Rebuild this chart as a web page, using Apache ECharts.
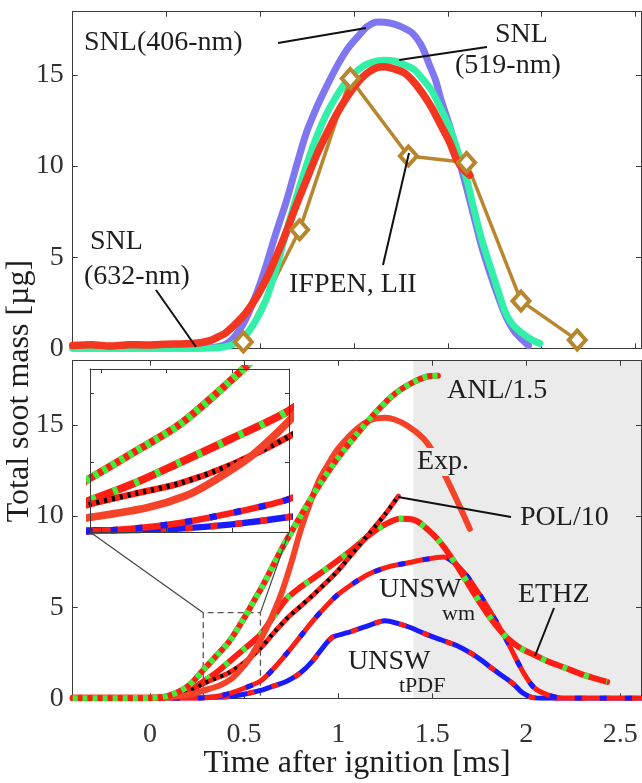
<!DOCTYPE html>
<html><head><meta charset="utf-8">
<script src="https://cdn.jsdelivr.net/npm/echarts@6/dist/echarts.min.js"></script>
<style>html,body{margin:0;padding:0;background:#fff}#c{width:642px;height:783px}</style>
</head><body><div id="c"></div>
<script>
// ---------------- DATA (time [ms], total soot mass [µg]) ----------------
// Top panel: experiments
const snl406 = [[-0.5,0],[0,0],[0.2,0.02],[0.3,0.15],[0.36,0.6],[0.42,1.55],[0.48,3.0],[0.53,4.5],[0.58,6.2],[0.64,8.1],[0.69,9.9],[0.745,11.8],[0.8,13.2],[0.855,14.4],[0.91,15.5],[0.963,16.4],[1.02,17.1],[1.07,17.65],[1.127,17.9],[1.19,17.85],[1.25,17.65],[1.31,17.3],[1.36,16.6],[1.40,15.6],[1.435,14.7],[1.465,13.6],[1.51,12.2],[1.55,10.7],[1.6,8.8],[1.64,7.2],[1.68,5.6],[1.726,4.1],[1.77,2.8],[1.81,1.74],[1.85,1.0],[1.88,0.64],[1.93,0.15]];
const snl519 = [[-0.5,0],[0,0],[0.25,0.02],[0.35,0.2],[0.42,0.7],[0.48,1.6],[0.53,2.65],[0.58,4.2],[0.636,6.3],[0.69,8.2],[0.745,10.0],[0.8,11.6],[0.855,12.9],[0.91,13.9],[0.963,14.7],[1.02,15.25],[1.07,15.6],[1.16,15.8],[1.22,15.75],[1.27,15.55],[1.32,15.3],[1.356,14.9],[1.41,14.2],[1.465,13.1],[1.51,12.1],[1.55,10.9],[1.6,9.3],[1.64,7.6],[1.68,6.0],[1.726,4.5],[1.77,3.1],[1.81,1.9],[1.85,1.25],[1.9,0.8],[1.95,0.45],[1.99,0.27]];
const snl632 = [[-0.5,0.15],[-0.4,0.2],[-0.3,0.12],[-0.2,0.2],[-0.1,0.18],[0,0.22],[0.1,0.25],[0.18,0.3],[0.24,0.45],[0.28,0.65],[0.31,0.8],[0.36,1.25],[0.42,1.9],[0.48,2.8],[0.53,3.75],[0.58,4.9],[0.636,6.3],[0.69,7.8],[0.745,9.2],[0.8,10.6],[0.855,11.8],[0.91,12.9],[0.963,13.8],[1.02,14.6],[1.07,15.1],[1.12,15.4],[1.16,15.45],[1.21,15.35],[1.27,15.1],[1.32,14.6],[1.378,13.8],[1.42,13.1],[1.465,12.2],[1.51,11.3],[1.55,10.3],[1.585,9.8],[1.617,9.5]];
const ifpenLII = [[0.41,0.35],[0.71,6.5],[0.98,14.8],[1.29,10.55],[1.60,10.2],[1.89,2.6],[2.19,0.45]];

// Bottom panel: models and experiment
const anl = [[-0.411,0],[0,0.02],[0.1,0.15],[0.2,0.65],[0.283,1.55],[0.35,2.3],[0.42,3.1],[0.5,4.4],[0.55,5.3],[0.6,6.2],[0.65,7.2],[0.7,8.2],[0.8,10.0],[0.9,11.7],[1.0,13.2],[1.1,14.5],[1.2,15.7],[1.3,16.7],[1.4,17.35],[1.47,17.65],[1.53,17.7]];
const exp = [[-0.411,0.05],[0,0.05],[0.1,0.08],[0.2,0.18],[0.283,0.42],[0.37,0.7],[0.43,1.05],[0.47,1.45],[0.53,2.2],[0.587,3.2],[0.64,4.3],[0.7,5.8],[0.75,7.4],[0.8,9.2],[0.85,10.7],[0.9,12.0],[0.95,12.9],[1.0,13.7],[1.1,14.8],[1.18,15.3],[1.25,15.4],[1.3,15.3],[1.37,14.95],[1.45,14.3],[1.5,13.6],[1.56,12.4],[1.63,10.9],[1.7,9.3]];
const pol = [[-0.411,0],[0,0],[0.1,0.05],[0.2,0.35],[0.283,0.8],[0.35,1.1],[0.42,1.4],[0.5,1.95],[0.587,2.75],[0.65,3.5],[0.73,4.4],[0.8,5.05],[0.87,5.7],[0.99,6.9],[1.08,8.0],[1.17,9.1],[1.25,10.1],[1.32,11.1]];
const ethz = [[-0.411,0],[0,0],[0.1,0.05],[0.2,0.4],[0.283,0.92],[0.35,1.4],[0.42,2.0],[0.5,2.7],[0.587,3.5],[0.65,4.4],[0.73,5.5],[0.8,6.1],[0.87,6.6],[0.99,7.5],[1.08,8.2],[1.17,9.0],[1.26,9.6],[1.33,9.85],[1.4,9.8],[1.45,9.5],[1.54,8.6],[1.63,7.3],[1.72,5.8],[1.81,4.4],[1.9,3.3],[1.97,2.75],[2.04,2.4],[2.12,2.0],[2.2,1.7],[2.3,1.3],[2.43,0.9]];
const unswWm = [[-0.411,0],[0,0],[0.2,0],[0.283,0.02],[0.35,0.1],[0.42,0.26],[0.5,0.55],[0.587,0.95],[0.65,1.55],[0.73,2.5],[0.8,3.4],[0.87,4.3],[0.94,5.1],[1.0,5.7],[1.08,6.3],[1.17,6.85],[1.28,7.25],[1.38,7.45],[1.45,7.6],[1.56,7.75],[1.61,7.5],[1.67,6.9],[1.72,6.2],[1.81,4.75],[1.9,3.1],[1.98,1.5],[2.04,0.6],[2.11,0.2],[2.18,0.02],[2.3,0],[2.61,0]];
const unswTpdf = [[-0.411,0],[0,0],[0.283,0.05],[0.35,0.06],[0.42,0.1],[0.5,0.22],[0.587,0.43],[0.65,0.65],[0.73,0.95],[0.8,1.4],[0.86,2.0],[0.92,2.8],[0.97,3.35],[1.05,3.6],[1.15,3.95],[1.25,4.25],[1.32,4.1],[1.38,3.9],[1.46,3.55],[1.55,3.2],[1.63,2.9],[1.71,2.45],[1.76,2.1],[1.81,1.7],[1.87,1.25],[1.93,0.8],[1.98,0.3],[2.03,0.05],[2.1,0],[2.61,0]];

// Axes / ticks
const xTicks = [0, 0.5, 1, 1.5, 2, 2.5];
const yTicks = [0, 5, 10, 15];
const insetXTicks = [0.3, 0.4, 0.5];
const insetYTicks = [0, 2, 4];
const topXRange = [-0.5, 2.53];
const botXRange = [-0.411, 2.61];
const topYRange = [0, 18.47];
const botYRange = [0, 18.53];
const zoomX = [0.283, 0.587];
const zoomY = [0, 4.7];
const shadeStart = 1.4;

// ---------------- CHART ----------------
const FONT = '"Liberation Serif", "Times New Roman", serif';
const AX = '#3a3a3a';
const chart = echarts.init(document.getElementById('c'), null, {renderer: 'canvas'});

function xAx(gridIndex, position, range, ticks, labels, tickLen) {
  return {type: 'value', gridIndex, position, min: range[0], max: range[1],
    axisLine: {show: true, onZero: false, lineStyle: {color: AX, width: 1}},
    axisTick: {show: true, inside: true, length: tickLen, customValues: ticks, lineStyle: {color: AX}},
    axisLabel: {show: labels, customValues: ticks, fontFamily: FONT, fontSize: 28, color: '#333', margin: 22},
    splitLine: {show: false}, z: 1};
}
function yAx(gridIndex, position, range, ticks, labels, tickLen) {
  return {type: 'value', gridIndex, position, min: range[0], max: range[1],
    axisLine: {show: true, onZero: false, lineStyle: {color: AX, width: 1}},
    axisTick: {show: true, inside: true, length: tickLen, customValues: ticks, lineStyle: {color: AX}},
    axisLabel: {show: labels, customValues: ticks, fontFamily: FONT, fontSize: 28, color: '#333', margin: 9},
    splitLine: {show: false}, z: 1};
}

function line(data, xi, yi, color, width, type, z) {
  return {type: 'line', xAxisIndex: xi, yAxisIndex: yi, data,
    showSymbol: false, symbol: 'none', smooth: 0.3, silent: true, animation: false,
    lineStyle: {color, width, type, cap: type === 'solid' ? 'round' : 'butt', join: 'round'}, z};
}

const RED = '#ff1e14', GREEN = '#3ef03a', BLUE = '#1a1aff', BLACK = '#000';

function modelSeries(xi, yi, w, zBase) {
  return [
    line(unswTpdf, xi, yi, BLUE, 5 * w, 'solid', zBase),
    line(unswTpdf, xi, yi, RED, 5 * w, [7, 18], zBase),
    line(unswWm, xi, yi, RED, 5 * w, 'solid', zBase),
    line(unswWm, xi, yi, BLUE, 5 * w, [7, 18], zBase),
    line(ethz, xi, yi, RED, 6 * w, 'solid', zBase),
    line(ethz, xi, yi, GREEN, 6 * w, [5, 18], zBase),
    line(pol, xi, yi, RED, 5 * w, 'solid', zBase),
    line(pol, xi, yi, BLACK, 4 * w, [3, 5], zBase),
    line(exp, xi, yi, '#f5432a', 6 * w, 'solid', zBase),
    line(anl, xi, yi, RED, 6 * w, 'solid', zBase),
    line(anl, xi, yi, GREEN, 6 * w, [5, 5], zBase)
  ];
}

const series = [
  // top panel
  {type: 'line', xAxisIndex: 0, yAxisIndex: 0, data: ifpenLII, smooth: false, silent: true, animation: false,
   symbol: 'diamond', symbolSize: [17, 19], showSymbol: true,
   lineStyle: {color: '#b8862c', width: 3.5}, itemStyle: {color: '#fff', borderColor: '#b8862c', borderWidth: 4}, z: 2},
  line(snl406, 0, 0, '#7f76f0', 7, 'solid', 2),
  line(snl519, 0, 0, '#33f0a8', 7, 'solid', 2),
  line(snl632, 0, 0, '#f2361f', 7.5, 'solid', 2),
  // bottom panel shaded region
  {type: 'line', xAxisIndex: 2, yAxisIndex: 2, data: [[shadeStart, 0]], symbol: 'none', silent: true, animation: false,
   lineStyle: {opacity: 0}, z: 0,
   markArea: {silent: true, itemStyle: {color: '#ebebeb'},
     data: [[{xAxis: shadeStart, yAxis: botYRange[0]}, {xAxis: botXRange[1], yAxis: botYRange[1]}]]}},
  // zoom box
  {type: 'line', xAxisIndex: 2, yAxisIndex: 2, symbol: 'none', silent: true, animation: false,
   data: [[zoomX[0], zoomY[0]], [zoomX[0], zoomY[1]], [zoomX[1], zoomY[1]], [zoomX[1], zoomY[0]]],
   lineStyle: {color: '#555', width: 1.3, type: [6, 4]}, z: 1},
  ...modelSeries(2, 2, 1, 2),
  ...modelSeries(4, 4, 1.3, 4)
];

const option = {
  animation: false,
  backgroundColor: '#fff',
  grid: [
    {left: 72.7, top: 11.7, width: 568.3, height: 336.6},
    {left: 72.7, top: 360.7, width: 568.3, height: 337.6},
    {left: 90, top: 369, width: 199, height: 163, show: true, backgroundColor: '#fff', borderWidth: 0, z: 3}
  ],
  xAxis: [
    xAx(0, 'bottom', topXRange, xTicks, false, 5),
    xAx(0, 'top', topXRange, xTicks, false, 5),
    xAx(1, 'bottom', botXRange, xTicks, true, 5),
    xAx(1, 'top', botXRange, xTicks, false, 5),
    Object.assign(xAx(2, 'bottom', zoomX, insetXTicks, false, 4), {z: 5}),
    Object.assign(xAx(2, 'top', zoomX, insetXTicks, false, 4), {z: 5})
  ],
  yAxis: [
    yAx(0, 'left', topYRange, yTicks, true, 5),
    yAx(0, 'right', topYRange, yTicks, false, 5),
    yAx(1, 'left', botYRange, yTicks, true, 5),
    yAx(1, 'right', botYRange, yTicks, false, 5),
    Object.assign(yAx(2, 'left', zoomY, insetYTicks, false, 4), {z: 5}),
    Object.assign(yAx(2, 'right', zoomY, insetYTicks, false, 4), {z: 5})
  ],
  series
};
chart.setOption(option);

// ---------------- annotations ----------------
function txt(text, x, y, size, extra) {
  return {type: 'text', x, y, z: 20, silent: true,
    style: Object.assign({text, fontFamily: FONT, fontSize: size, fill: '#1e1e1e', align: 'left', verticalAlign: 'middle'}, extra || {})};
}
function seg(x1, y1, x2, y2, w, color) {
  return {type: 'line', z: 20, silent: true, shape: {x1, y1, x2, y2}, style: {stroke: color || '#111', lineWidth: w || 2}};
}
const p = (gi, v) => chart.convertToPixel({gridIndex: gi}, v);
const insBL = [90, 532], insBR = [289, 532];
const boxTL = p(1, [zoomX[0], zoomY[1]]), boxTR = p(1, [zoomX[1], zoomY[1]]);

const graphics = [
  txt('Time after ignition [ms]', 357, 764, 32, {align: 'center'}),
  {type: 'text', x: 20, y: 391, rotation: Math.PI / 2, z: 20, silent: true,
   style: {text: 'Total soot mass [µg]', fontFamily: FONT, fontSize: 32, fill: '#1e1e1e', align: 'center', verticalAlign: 'middle'}},
  txt('SNL(406-nm)', 84, 43, 28),
  seg(278, 43, 366, 28),
  txt('SNL', 495, 35, 28),
  txt('(519-nm)', 455, 66, 28),
  seg(487, 47, 399, 60),
  txt('SNL', 90, 242, 28),
  txt('(632-nm)', 84, 277, 28),
  seg(156, 290, 196, 347),
  txt('IFPEN, LII', 289, 285, 28),
  seg(383, 265, 409, 153),
  txt('ANL/1.5', 447, 391, 28),
  txt('Exp.', 416, 462, 28, {backgroundColor: '#ebebeb', padding: [0, 1]}),
  txt('POL/10', 520, 518, 28),
  seg(511, 517, 398, 497),
  txt('ETHZ', 518, 595, 28),
  seg(554, 608, 535, 656),
  txt('UNSW', 379, 590, 28),
  txt('wm', 442, 614, 22),
  txt('UNSW', 348, 662, 28),
  txt('tPDF', 399, 686, 22),
  seg(insBL[0], insBL[1], boxTL[0], boxTL[1], 1.2, '#444'),
  seg(insBR[0], insBR[1], boxTR[0], boxTR[1], 1.2, '#444')
];
chart.setOption({graphic: graphics});
</script></body></html>
